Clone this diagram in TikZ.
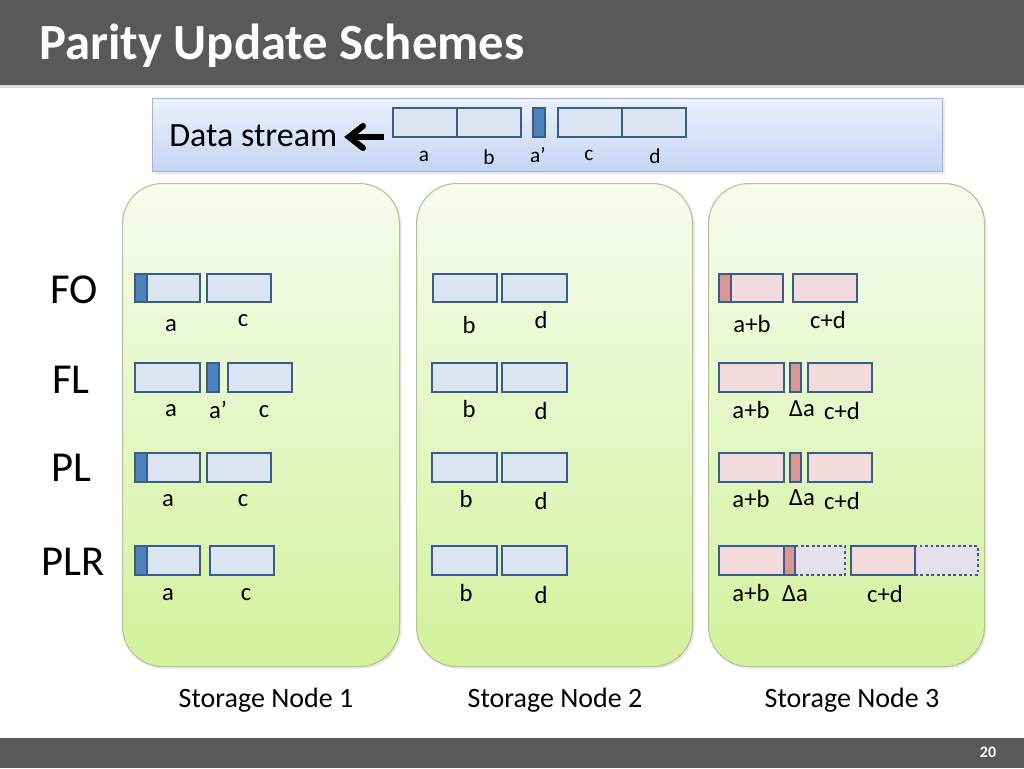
\documentclass[tikz,border=0pt]{standalone}
\usepackage{fontspec}
\setmainfont{Carlito}
\usetikzlibrary{arrows.meta,shadows}
\definecolor{bar}{HTML}{595959}
\definecolor{barline}{HTML}{D9D9D9}
\definecolor{blkfill}{HTML}{DCE6F2}
\definecolor{blkline}{HTML}{385D8A}
\definecolor{stripc}{HTML}{4F81BD}
\definecolor{pinkfill}{HTML}{F2DCDB}
\definecolor{pinkstrip}{HTML}{D99694}
\definecolor{lav}{HTML}{E6E0EC}
\definecolor{pantop}{HTML}{F6FCEE}
\definecolor{panbot}{HTML}{D3F29C}
\definecolor{panline}{HTML}{B2C290}
\definecolor{dstop}{HTML}{EBF1FC}
\definecolor{dsbot}{HTML}{C4D5F3}
\definecolor{dsline}{HTML}{9AB5DA}
\newcommand\Bx[6]{\node[#6, anchor=north west, inner sep=0pt, outer sep=0pt,
  minimum width={(#4-#2)*0.75pt}, minimum height={(#5-#3)*0.75pt}] (#1) at (#2,#3) {};}
\begin{document}
\begin{tikzpicture}[x=0.75pt,y=-0.75pt,
  blk/.style={draw=blkline, line width=2.1pt, fill=blkfill},
  blkS/.style={draw=blkline, line width=2.1pt, fill=stripc},
  pblk/.style={draw=blkline, line width=2.1pt, fill=pinkfill},
  pblkS/.style={draw=blkline, line width=2.1pt, fill=pinkstrip},
  dblk/.style={draw=blkline, line width=2.1pt, dotted, fill=lav},
  panel/.style={draw=panline, line width=0.8pt, rounded corners=30pt, top color=pantop, bottom color=panbot,
     drop shadow={opacity=0.18, shadow xshift=1.5pt, shadow yshift=-1.5pt}},
  lbl/.style={font=\fontsize{18.5}{20}\selectfont, inner sep=0pt},
  slbl/.style={font=\fontsize{16}{18}\selectfont, inner sep=0pt},
  rowlbl/.style={font=\fontsize{32}{36}\selectfont, inner sep=0pt},
  nodelbl/.style={font=\fontsize{21}{24}\selectfont, inner sep=0pt},
  arr/.style={line width=4.5pt, line cap=butt},
  arrhead/.style={line width=4.5pt, line cap=round, line join=miter}
]
\useasboundingbox (0,0) rectangle (1024,768);
\fill[white] (0,0) rectangle (1024,768);
% bars
\fill[bar] (0,0) rectangle (1024,85);
\fill[barline] (0,85) rectangle (1024,88);
\fill[bar] (0,738) rectangle (1024,768);
\node[anchor=west, text=white, font=\bfseries\fontsize{38}{42}\selectfont, inner sep=0pt] (title) at (39,46) {Parity Update Schemes};
\node[text=white, font=\bfseries\fontsize{12}{14}\selectfont, inner sep=0pt] (pg) at (988,752) {20};

% data stream box
\node[draw=dsline, line width=0.8pt, top color=dstop, bottom color=dsbot, anchor=north west, inner sep=0pt,
  minimum width={790*0.75pt}, minimum height={73*0.75pt},
  drop shadow={opacity=0.18, shadow xshift=1.5pt, shadow yshift=-1.5pt}] (ds) at (152,98) {};
\node[anchor=west, font=\fontsize{25.5}{28}\selectfont, inner sep=0pt] (dst) at (169,136) {Data stream};
\Bx{sa}{393}{108}{457}{137}{blk}
\Bx{sb}{457}{108}{521}{137}{blk}
\Bx{sap}{533}{108}{545}{137}{blkS}
\Bx{sc}{558}{108}{622}{137}{blk}
\Bx{sd}{622}{108}{686}{137}{blk}
\coordinate (arrS) at (384,137);
\coordinate (arrE) at (349,137);
\coordinate (arrU) at (363,126);
\coordinate (arrD) at (363,148);
\draw[arr] (arrS) -- (arrE);
\draw[arrhead] (arrU) -- (arrE) -- (arrD);
\node[slbl] (lsa) at (424,156) {a};
\node[slbl] (lsb) at (489,157) {b};
\node[slbl] (lsap) at (538,155) {a’};
\node[slbl] (lsc) at (589,155) {c};
\node[slbl] (lsd) at (655,156) {d};

% panels
\node[panel, anchor=north west, inner sep=0pt, minimum width={277*0.75pt}, minimum height={483*0.75pt}] (p1) at (122,183) {};
\node[panel, anchor=north west, inner sep=0pt, minimum width={276*0.75pt}, minimum height={483*0.75pt}] (p2) at (416,183) {};
\node[panel, anchor=north west, inner sep=0pt, minimum width={276*0.75pt}, minimum height={483*0.75pt}] (p3) at (708,183) {};

% row labels
\node[rowlbl] (rFO) at (74,290) {FO};
\node[rowlbl] (rFL) at (71,380) {FL};
\node[rowlbl] (rPL) at (71,468) {PL};
\node[rowlbl] (rPLR) at (73,562) {PLR};

% ---- Panel 1
\Bx{fo1a}{135}{274}{200}{302}{blk}
\Bx{fo1as}{135}{274}{147}{302}{blkS}
\Bx{fo1c}{207}{274}{271}{302}{blk}
\node[lbl] (lfo1a) at (171,326) {a};
\node[lbl] (lfo1c) at (243,321) {c};

\Bx{fl1a}{135}{363}{200}{392}{blk}
\Bx{fl1ap}{207}{363}{219}{392}{blkS}
\Bx{fl1c}{228}{363}{292}{392}{blk}
\node[lbl] (lfl1a) at (171,411) {a};
\node[lbl] (lfl1ap) at (218,410) {a’};
\node[lbl] (lfl1c) at (264,412) {c};

\Bx{pl1a}{135}{453}{200}{482}{blk}
\Bx{pl1as}{135}{453}{147}{482}{blkS}
\Bx{pl1c}{207}{453}{271}{482}{blk}
\node[lbl] (lpl1a) at (168,501) {a};
\node[lbl] (lpl1c) at (243,501) {c};

\Bx{plr1a}{135}{546}{200}{575}{blk}
\Bx{plr1as}{135}{546}{147}{575}{blkS}
\Bx{plr1c}{210}{546}{274}{575}{blk}
\node[lbl] (lplr1a) at (168,595) {a};
\node[lbl] (lplr1c) at (246,595) {c};

% ---- Panel 2
\Bx{fo2b}{433}{274}{497}{302}{blk}
\Bx{fo2d}{502}{274}{567}{302}{blk}
\node[lbl] (lfo2b) at (469,325) {b};
\node[lbl] (lfo2d) at (541,320) {d};

\Bx{fl2b}{432}{363}{497}{392}{blk}
\Bx{fl2d}{502}{363}{567}{392}{blk}
\node[lbl] (lfl2b) at (469,409) {b};
\node[lbl] (lfl2d) at (541,411) {d};

\Bx{pl2b}{432}{453}{497}{482}{blk}
\Bx{pl2d}{502}{453}{567}{482}{blk}
\node[lbl] (lpl2b) at (466,499) {b};
\node[lbl] (lpl2d) at (541,501) {d};

\Bx{plr2b}{432}{546}{497}{575}{blk}
\Bx{plr2d}{502}{546}{567}{575}{blk}
\node[lbl] (lplr2b) at (466,593) {b};
\node[lbl] (lplr2d) at (541,595) {d};

% ---- Panel 3
\Bx{fo3ab}{719}{274}{783}{302}{pblk}
\Bx{fo3abs}{719}{274}{731}{302}{pblkS}
\Bx{fo3cd}{793}{274}{857}{302}{pblk}
\node[lbl] (lfo3ab) at (752,324) {a+b};
\node[lbl] (lfo3cd) at (828,320) {c+d};

\Bx{fl3ab}{719}{363}{784}{392}{pblk}
\Bx{fl3da}{790}{363}{801}{392}{pblkS}
\Bx{fl3cd}{808}{363}{872}{392}{pblk}
\node[lbl] (lfl3ab) at (751,410) {a+b};
\node[lbl] (lfl3da) at (802,409) {Δa};
\node[lbl] (lfl3cd) at (842,411) {c+d};

\Bx{pl3ab}{719}{453}{784}{482}{pblk}
\Bx{pl3da}{790}{453}{801}{482}{pblkS}
\Bx{pl3cd}{808}{453}{872}{482}{pblk}
\node[lbl] (lpl3ab) at (751,499) {a+b};
\node[lbl] (lpl3da) at (802,498) {Δa};
\node[lbl] (lpl3cd) at (842,501) {c+d};

\Bx{plr3x1}{795}{546}{845}{575}{dblk}
\Bx{plr3x2}{915}{546}{978}{575}{dblk}
\Bx{plr3ab}{719}{546}{784}{575}{pblk}
\Bx{plr3da}{784}{546}{795}{575}{pblkS}
\Bx{plr3cd}{851}{546}{915}{575}{pblk}
\node[lbl] (lplr3ab) at (751,593) {a+b};
\node[lbl] (lplr3da) at (795,594) {Δa};
\node[lbl] (lplr3cd) at (885,594) {c+d};

% node labels
\node[nodelbl] (n1) at (266,700) {Storage Node 1};
\node[nodelbl] (n2) at (555,700) {Storage Node 2};
\node[nodelbl] (n3) at (852,700) {Storage Node 3};
\end{tikzpicture}
\end{document}
